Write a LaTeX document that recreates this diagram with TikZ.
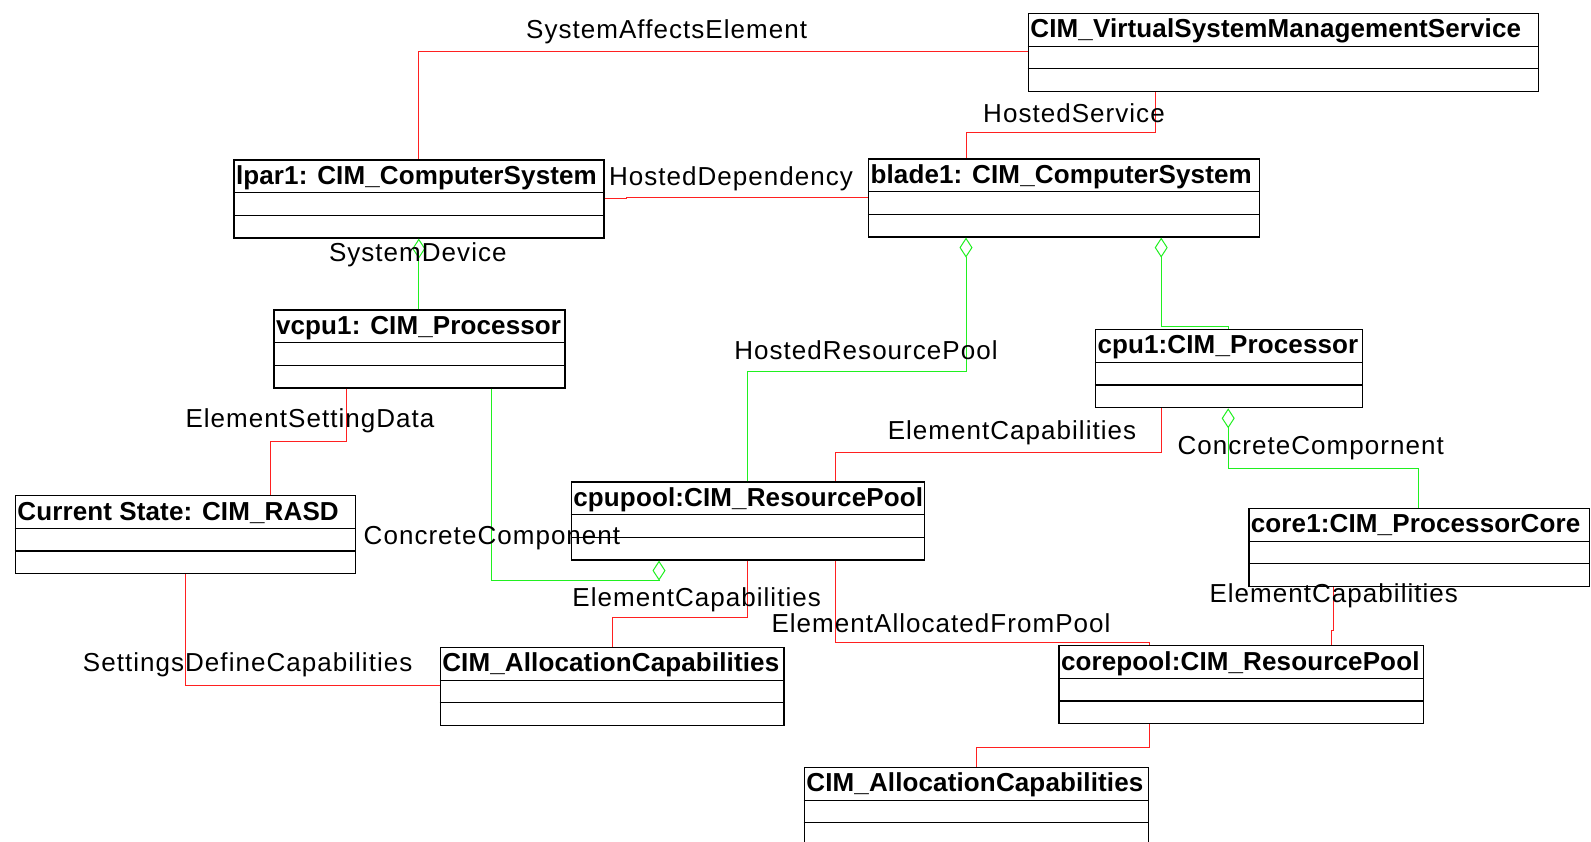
\documentclass[tikz,border=0pt]{standalone}
\usepackage{fontspec}
\setmainfont{Liberation Sans}
\newfontfamily\lblfont[LetterSpace=4]{Liberation Sans}
\newfontfamily\ttlfont[LetterSpace=0.5]{Liberation Sans}
\usetikzlibrary{arrows.meta}

\definecolor{assocred}{HTML}{FF2020}
\definecolor{aggrgreen}{HTML}{20F020}

\tikzset{
  clsbox/.style={draw=black, line width=1.3pt, rectangle, inner sep=0pt,
                 minimum height=78pt, fill=white},
  clsline/.style={draw=black, line width=1.3pt},
  clstitle/.style={inner sep=0pt, font=\ttlfont\bfseries\fontsize{26}{30}\selectfont},
  lbl/.style={inner sep=0pt, anchor=center, font=\lblfont\fontsize{26}{30}\selectfont},
  assoc/.style={draw=assocred, line width=1pt},
  aggr/.style={draw=aggrgreen, line width=1pt},
  aggrtip/.style={-{Diamond[open, length=20pt, width=13pt, line width=1pt]}},
}

% one UML class: name, left x, top y, width, title
\newcommand{\umlclass}[5]{%
  \node[clsbox, minimum width=#4pt, anchor=north west] (#1) at (#2,#3) {};
  \node[clstitle, anchor=base west] (#1-t) at ([xshift=2.5pt,yshift=-25pt]#1.north west) {#5};
  \draw[clsline] ([yshift=-33.5pt]#1.north west) -- ([yshift=-33.5pt]#1.north east);
  \draw[clsline] ([yshift=-56pt]#1.north west) -- ([yshift=-56pt]#1.north east);
}

\begin{document}
\begin{tikzpicture}[x=1pt, y=-1pt]
\useasboundingbox (0,0) rectangle (1591,842);
\begin{scope}
\clip (0,0) rectangle (1591,842);

% attachment points of the connectors
% associations
\coordinate (sae) at (1027.7,51.7);
\coordinate (hsA) at (1155.4,90.7);
\coordinate (hsB) at (966,158.3);
\coordinate (hdA) at (603.3,198.3);
\coordinate (hdB) at (867.9,197.3);
\coordinate (ecA) at (1161.3,407.7);
\coordinate (ecB) at (835.3,481.3);
\coordinate (esdA) at (346.5,387.7);
\coordinate (esdB) at (270.2,495);
\coordinate (eclA) at (747.3,559.7);
\coordinate (eafA) at (835.3,559.7);
\coordinate (eafB) at (1149.1,645);
\coordinate (ecrA) at (1333.4,586);
\coordinate (ecrB) at (1331.6,645);
\coordinate (cpaA) at (1149.3,723.7);
\coordinate (sdcA) at (185.7,573.3);
\coordinate (sdcB) at (439.6,685);

% aggregations
\coordinate (sdA) at (418.8,309.3);
\coordinate (sdB) at (418.8,237.7);
\coordinate (hrpA) at (747.3,481.3);
\coordinate (hrpB) at (966,236.7);
\coordinate (bcA) at (1228.2,329);
\coordinate (bcB) at (1161.2,236.7);
\coordinate (ccrA) at (1418.5,507.7);
\coordinate (ccrB) at (1228.2,407.7);
\coordinate (cclA) at (491.8,387.7);
\coordinate (cclB) at (659,559.7);

\umlclass{vsms}{1027.7}{12.7}{509.8}{CIM\_VirtualSystemManagementService}
\umlclass{lpar}{233.3}{159.3}{370}{lpar1: CIM\_ComputerSystem}
\umlclass{blade}{867.9}{158.3}{390.6}{blade1: CIM\_ComputerSystem}
\umlclass{vcpu}{273.3}{309.3}{291}{vcpu1: CIM\_Processor}
\umlclass{cpu}{1094.8}{329}{266.9}{cpu1:CIM\_Processor}
\umlclass{rasd}{14.7}{495}{340.3}{Current State: CIM\_RASD}
\umlclass{cpupool}{570.7}{481.3}{353}{cpupool:CIM\_ResourcePool}
\umlclass{core}{1248.2}{507.7}{340.7}{core1:CIM\_ProcessorCore}
\umlclass{allocA}{439.6}{646.7}{343.8}{CIM\_AllocationCapabilities}
\umlclass{corepool}{1058.3}{645}{364.2}{corepool:CIM\_ResourcePool}
\umlclass{allocB}{803.7}{766.7}{344}{CIM\_AllocationCapabilities}

% associations between the classes
\draw[assoc] (vsms.west |- sae) -| (lpar.north);
\draw[assoc] (vsms.south -| hsA) -- (1155.4,132.7) -| (blade.north -| hsB);
\draw[assoc] (lpar.east |- hdA) -- (626.5,198.3) -- (626.5,197.3) -- (blade.west |- hdB);
\draw[assoc] (cpu.south -| ecA) -- (1161.3,452.7) -| (cpupool.north -| ecB);
\draw[assoc] (vcpu.south -| esdA) -- (346.5,441) -| (rasd.north -| esdB);
\draw[assoc] (cpupool.south -| eclA) -- (747.3,617.7) -| (allocA.north);
\draw[assoc] (cpupool.south -| eafA) -- (835.3,642.7) -| (corepool.north -| eafB);
\draw[assoc] (core.south -| ecrA) -- (1333.4,630) -- (1331.6,630) -- (corepool.north -| ecrB);
\draw[assoc] (corepool.south -| cpaA) -- (1149.3,747.3) -| (allocB.north);
\draw[assoc] (rasd.south -| sdcA) |- (allocA.west |- sdcB);

% aggregations (diamond at the whole)
\draw[aggr, aggrtip] (vcpu.north -| sdA) -- (lpar.south -| sdB);
\draw[aggr, aggrtip] (cpupool.north -| hrpA) -- (747.3,372) -| (blade.south -| hrpB);
\draw[aggr, aggrtip] (cpu.north -| bcA) -- (1228.2,326.5) -| (blade.south -| bcB);
\draw[aggr, aggrtip] (core.north -| ccrA) -- (1418.5,468.3) -| (cpu.south -| ccrB);
\draw[aggr, aggrtip] (vcpu.south -| cclA) -- (491.8,580) -| (cpupool.south -| cclB);

% association labels
\node[lbl] (l-sae) at (666.6,31.5) {SystemAffectsElement};
\node[lbl] (l-hs) at (1074,113.3) {HostedService};
\node[lbl] (l-hd) at (731,178.6) {HostedDependency};
\node[lbl] (l-sd) at (417.8,255) {SystemDevice};
\node[lbl] (l-hrp) at (866,350.7) {HostedResourcePool};
\node[lbl] (l-ecu) at (1012,432.5) {ElementCapabilities};
\node[lbl] (l-ccr) at (1310.7,448.3) {ConcreteCompornent};
\node[lbl] (l-esd) at (310,420.7) {ElementSettingData};
\node[lbl] (l-ccl) at (492,538.3) {ConcreteComponent};
\node[lbl] (l-ecl) at (696.7,599.3) {ElementCapabilities};
\node[lbl] (l-eaf) at (941,623) {ElementAllocatedFromPool};
\node[lbl] (l-sdc) at (247.7,664.3) {SettingsDefineCapabilities};
\node[lbl] (l-ecr) at (1333.8,596) {ElementCapabilities};
\end{scope}
\end{tikzpicture}
\end{document}
